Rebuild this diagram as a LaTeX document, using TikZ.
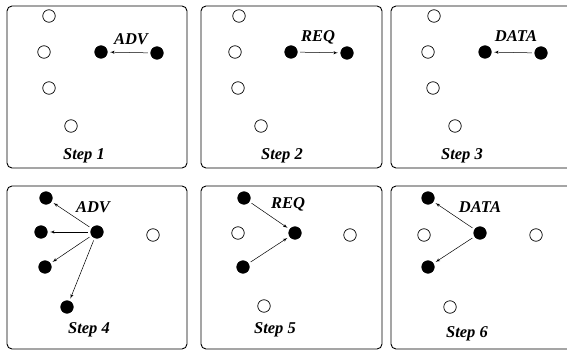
\documentclass[tikz,border=0pt]{standalone}
\usepackage{fontspec}
\setmainfont{Liberation Serif}
\usetikzlibrary{arrows}
\tikzstyle{panel} = [draw, rounded corners=5pt, line width=0.9pt]
\tikzstyle{live} = [draw, circle, fill=black, inner sep=0pt, minimum size=12.5pt, line width=0.7pt]
\tikzstyle{idle} = [draw, circle, fill=white, inner sep=0pt, minimum size=12.5pt, line width=0.7pt]
\tikzstyle{line} = [draw, -latex', line width=0.5pt, shorten >=2.5pt, shorten <=2.5pt]
\tikzstyle{msg} = [inner sep=0pt, font=\fontsize{16.5}{16.5}\selectfont\bfseries\itshape]

\begin{document}
\begin{tikzpicture}[x=1pt, y=-1pt]
	\useasboundingbox (0,0) rectangle (567,350);

	% panels
	\draw [panel] (7,6) rectangle (187,168);
	\draw [panel] (201,6) rectangle (382,168);
	\draw [panel] (391,6) rectangle (572,168);
	\draw [panel] (7,186) rectangle (187,349);
	\draw [panel] (201,186) rectangle (382,349);
	\draw [panel] (391,186) rectangle (572,349);

	% step 1
	\node [idle] (a1) at (49,16) {};
	\node [idle] (a2) at (44,52) {};
	\node [idle] (a3) at (49,88) {};
	\node [idle] (a4) at (71,126) {};
	\node [live] (a5) at (101,52) {};
	\node [live] (a6) at (157,53) {};
	\node [msg] (adv1) at (131,39) {ADV};
	\node [msg] (s1) at (84,156) {Step 1};
	\path [line] (a6) -- (a5);

	% step 2
	\node [idle] (b1) at (239,16) {};
	\node [idle] (b2) at (235,52) {};
	\node [idle] (b3) at (238,88) {};
	\node [idle] (b4) at (261,126) {};
	\node [live] (b5) at (291,52) {};
	\node [live] (b6) at (347,53) {};
	\node [msg] (req1) at (318,37) {REQ};
	\node [msg] (s2) at (282,156) {Step 2};
	\path [line] (b5) -- (b6);

	% step 3
	\node [idle] (c1) at (434,16) {};
	\node [idle] (c2) at (428,52) {};
	\node [idle] (c3) at (433,88) {};
	\node [idle] (c4) at (455,126) {};
	\node [live] (c5) at (485,52) {};
	\node [live] (c6) at (541,53) {};
	\node [msg] (data1) at (516,36) {DATA};
	\node [msg] (s3) at (462,156) {Step 3};
	\path [line] (c6) -- (c5);

	% step 4
	\node [live] (d1) at (46,198) {};
	\node [live] (d2) at (41,232) {};
	\node [live] (d3) at (45,267) {};
	\node [live] (d4) at (67,307) {};
	\node [live] (d5) at (97,232) {};
	\node [idle] (d6) at (153,235) {};
	\node [msg] (adv2) at (93,207) {ADV};
	\node [msg] (s4) at (89,330) {Step 4};
	\path [line] (d5) -- (d1);
	\path [line] (d5) -- (d2);
	\path [line] (d5) -- (d3);
	\path [line] (d5) -- (d4);

	% step 5
	\node [live] (e1) at (244,198) {};
	\node [idle] (e2) at (238,233) {};
	\node [live] (e3) at (243,267) {};
	\node [idle] (e4) at (264,306) {};
	\node [live] (e5) at (295,233) {};
	\node [idle] (e6) at (350,235) {};
	\node [msg] (req2) at (288,204) {REQ};
	\node [msg] (s5) at (275,330) {Step 5};
	\path [line] (e1) -- (e5);
	\path [line] (e3) -- (e5);

	% step 6
	\node [live] (f1) at (428,198) {};
	\node [idle] (f2) at (424,235) {};
	\node [live] (f3) at (428,267) {};
	\node [idle] (f4) at (450,307) {};
	\node [live] (f5) at (480,233) {};
	\node [idle] (f6) at (536,235) {};
	\node [msg] (data2) at (480,207) {DATA};
	\node [msg] (s6) at (467,334) {Step 6};
	\path [line] (f5) -- (f1);
	\path [line] (f5) -- (f3);
\end{tikzpicture}
\end{document}
